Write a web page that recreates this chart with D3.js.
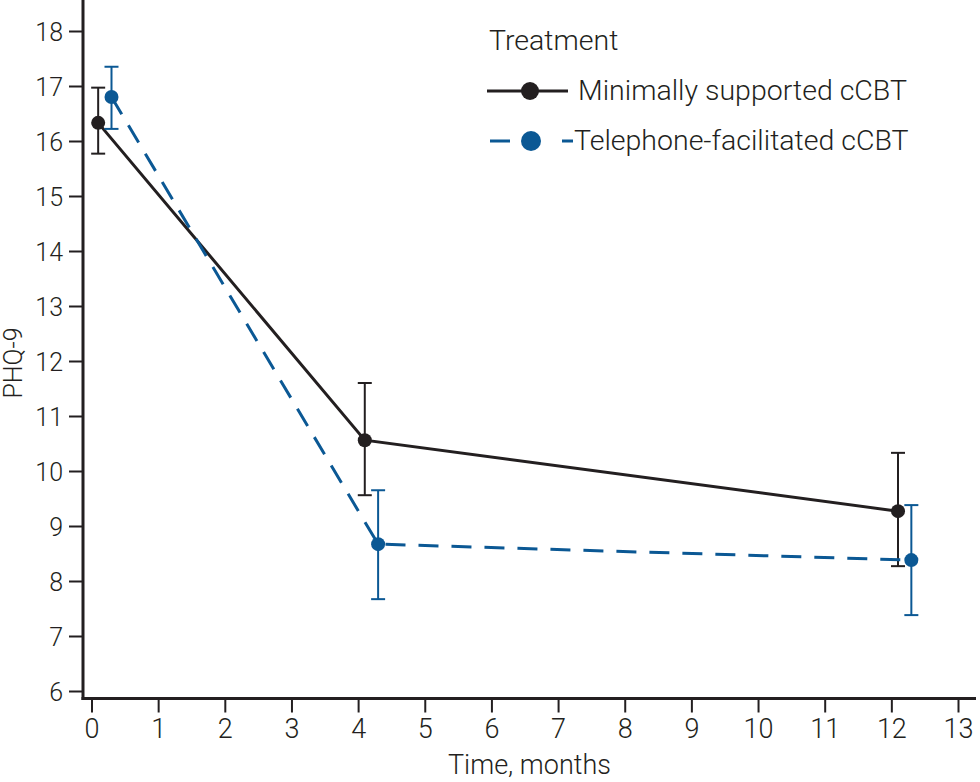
<!DOCTYPE html>
<html><head><meta charset="utf-8">
<script src="https://cdn.jsdelivr.net/npm/d3@7/dist/d3.min.js"></script>
<style>
body{margin:0;background:#fff;}
text{font-family:Roboto,"Liberation Sans",sans-serif;font-weight:300;fill:#231f20;}
</style></head><body>
<svg id="c" width="980" height="782"></svg>
<script>
const series = ["Minimally supported cCBT","Telephone-facilitated cCBT"];
const minimalX = [0.1, 4.1, 12.1];
const minimalY = [16.33, 10.56, 9.27];
const minimalLo = [15.77, 9.56, 8.27];
const minimalHi = [16.97, 11.6, 10.33];
const phoneX = [0.3, 4.3, 12.3];
const phoneY = [16.8, 8.67, 8.38];
const phoneLo = [16.22, 7.67, 7.38];
const phoneHi = [17.35, 9.65, 9.38];
const xTicks = [0,1,2,3,4,5,6,7,8,9,10,11,12,13];
const yTicks = [6,7,8,9,10,11,12,13,14,15,16,17,18];

const ink = "#231f20", blue = "#0b5894";
const svg = d3.select("#c");
const x = d3.scaleLinear().domain([0,13]).range([91.5,958]);
const y = d3.scaleLinear().domain([6,18]).range([691,31]);
const axX0 = 83, axY0 = 698.5;

// y axis
const ya = svg.append("g").attr("transform",`translate(${axX0},0)`)
  .call(d3.axisLeft(y).tickValues(yTicks).tickSize(14).tickPadding(6).tickFormat(d3.format("d")));
ya.select(".domain").remove();
ya.selectAll(".tick line").attr("stroke",ink).attr("stroke-width",2);
ya.selectAll(".tick text").attr("font-size",25).attr("fill",ink).attr("dy","0.36em");
svg.append("line").attr("x1",axX0).attr("x2",axX0).attr("y1",0).attr("y2",axY0+1.5)
  .attr("stroke",ink).attr("stroke-width",3);

// x axis
const xa = svg.append("g").attr("transform",`translate(0,${axY0})`)
  .call(d3.axisBottom(x).tickValues(xTicks).tickSize(14).tickPadding(6).tickFormat(d3.format("d")));
xa.select(".domain").remove();
xa.selectAll(".tick line").attr("stroke",ink).attr("stroke-width",2);
xa.selectAll(".tick text").attr("font-size",27).attr("fill",ink);
svg.append("line").attr("x1",axX0-1.5).attr("x2",976).attr("y1",axY0).attr("y2",axY0)
  .attr("stroke",ink).attr("stroke-width",3);

svg.append("text").attr("x",(axX0+976)/2).attr("y",774).attr("text-anchor","middle")
  .attr("font-size",27).text("Time, months");
svg.append("text").attr("transform","translate(22,363) rotate(-90)").attr("text-anchor","middle")
  .attr("font-size",25).text("PHQ-9");

function drawSeries(xs, ys, lo, hi, color, dash){
  const pts = xs.map((v,i)=>[v,ys[i]]);
  svg.append("path").attr("d", d3.line().x(d=>x(d[0])).y(d=>y(d[1]))(pts))
    .attr("fill","none").attr("stroke",color).attr("stroke-width",3)
    .attr("stroke-dasharray", dash || null);
  xs.forEach((v,i)=>{
    const cx = x(v);
    const g = svg.append("g").attr("stroke",color).attr("stroke-width",2);
    g.append("line").attr("x1",cx).attr("x2",cx).attr("y1",y(lo[i])).attr("y2",y(hi[i]));
    g.append("line").attr("x1",cx-7).attr("x2",cx+7).attr("y1",y(lo[i])).attr("y2",y(lo[i]));
    g.append("line").attr("x1",cx-7).attr("x2",cx+7).attr("y1",y(hi[i])).attr("y2",y(hi[i]));
  });
  svg.append("g").selectAll("circle").data(pts).join("circle")
    .attr("cx",d=>x(d[0])).attr("cy",d=>y(d[1])).attr("r",7).attr("fill",color);
}
drawSeries(minimalX, minimalY, minimalLo, minimalHi, ink, null);
drawSeries(phoneX, phoneY, phoneLo, phoneHi, blue, "20,13");

// legend
const lg = svg.append("g");
lg.append("text").attr("x",489).attr("y",50).attr("font-size",28.5).text("Treatment");
lg.append("line").attr("x1",487).attr("x2",568).attr("y1",91).attr("y2",91).attr("stroke",ink).attr("stroke-width",3);
lg.append("circle").attr("cx",530).attr("cy",91).attr("r",9).attr("fill",ink);
lg.append("text").attr("x",578).attr("y",100).attr("font-size",28.5).text(series[0]);
lg.append("line").attr("x1",490).attr("x2",573).attr("y1",141).attr("y2",141).attr("stroke",blue).attr("stroke-width",3).attr("stroke-dasharray","20,52,0,0,11");
lg.append("circle").attr("cx",531).attr("cy",141).attr("r",10).attr("fill",blue);
lg.append("text").attr("x",574).attr("y",150).attr("font-size",28.5).text(series[1]);
</script></body></html>
